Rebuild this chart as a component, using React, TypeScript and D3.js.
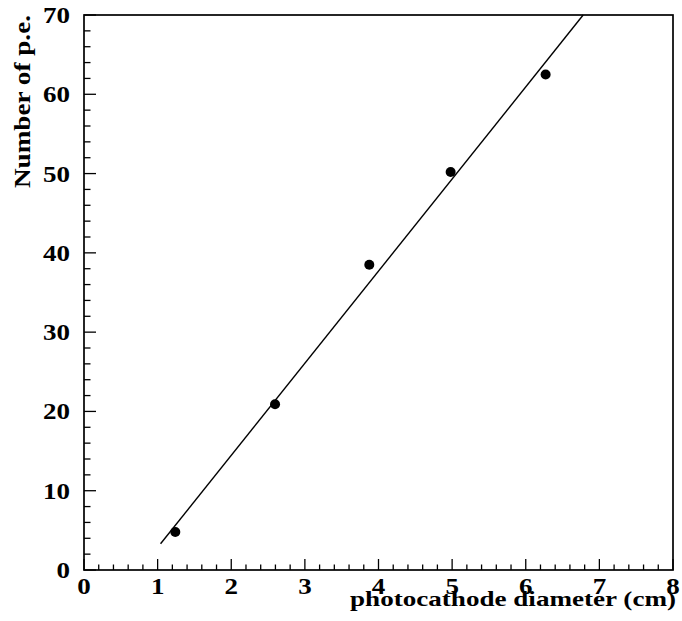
import React from "react";
import * as d3 from "d3";

const diameters = [1.24, 2.595, 3.875, 4.98, 6.27];
const numPE = [4.8, 20.9, 38.5, 50.2, 62.5];
const fitSlope = 11.62;
const fitIntercept = -8.78;
const fitXStart = 1.04;
const xTickValues = [0, 1, 2, 3, 4, 5, 6, 7, 8];
const yTickValues = [0, 10, 20, 30, 40, 50, 60, 70];
const xLabel = "photocathode diameter (cm)";
const yLabel = "Number of p.e.";

const W = 682, H = 621;
const L = 84, R = 673, T = 15, B = 570;

export default function App() {
  const x = d3.scaleLinear().domain([0, 8]).range([L, R]);
  const y = d3.scaleLinear().domain([0, 70]).range([B, T]);
  const xMinor = d3.range(0, 8.0001, 0.2).filter((v) => Math.abs(v - Math.round(v)) > 1e-6);
  const yMinor = d3.range(0, 70.0001, 2).filter((v) => v % 10 !== 0);
  const fitXEnd = (70 - fitIntercept) / fitSlope;
  const fitPts: [number, number][] = [fitXStart, fitXEnd].map((v) => [v, fitSlope * v + fitIntercept]);
  const line = d3.line<[number, number]>().x((d) => x(d[0])).y((d) => y(d[1]));
  const font = "Liberation Serif, Times New Roman, serif";
  return (
    <svg width={W} height={H} style={{ position: "absolute", left: 0, top: 0, background: "#fff" }}>
      <g stroke="#000" fill="none">
        <rect x={L} y={T} width={R - L} height={B - T} strokeWidth={1.7} />
        {xTickValues.map((v) => (
          <line key={"xm" + v} x1={x(v)} x2={x(v)} y1={B} y2={B - 11} strokeWidth={1.3} />
        ))}
        {xMinor.map((v, i) => (
          <line key={"xn" + i} x1={x(v)} x2={x(v)} y1={B} y2={B - 5.5} strokeWidth={1.3} />
        ))}
        {yTickValues.map((v) => (
          <line key={"ym" + v} x1={L} x2={L + 12} y1={y(v)} y2={y(v)} strokeWidth={1.3} />
        ))}
        {yMinor.map((v, i) => (
          <line key={"yn" + i} x1={L} x2={L + 6.5} y1={y(v)} y2={y(v)} strokeWidth={1.3} />
        ))}
        <path d={line(fitPts) || ""} strokeWidth={1.4} />
      </g>
      {diameters.map((d, i) => (
        <circle key={i} cx={x(d)} cy={y(numPE[i])} r={5} fill="#000" />
      ))}
      <g fontFamily={font} fontWeight="bold" fontSize={23} fill="#000">
        {xTickValues.map((v) => (
          <text key={"xl" + v} x={x(v)} y={B + 24} textAnchor="middle"
            textLength={13.5 * String(v).length} lengthAdjust="spacingAndGlyphs">{v}</text>
        ))}
        {yTickValues.map((v) => (
          <text key={"yl" + v} x={70} y={y(v) + 8} textAnchor="end"
            textLength={13.5 * String(v).length} lengthAdjust="spacingAndGlyphs">{v}</text>
        ))}
        <text x={350} y={606} fontSize={22} textLength={326} lengthAdjust="spacingAndGlyphs">{xLabel}</text>
        <text transform={`translate(30, 188) rotate(-90)`} fontSize={24} textLength={173}
          lengthAdjust="spacingAndGlyphs">{yLabel}</text>
      </g>
    </svg>
  );
}
